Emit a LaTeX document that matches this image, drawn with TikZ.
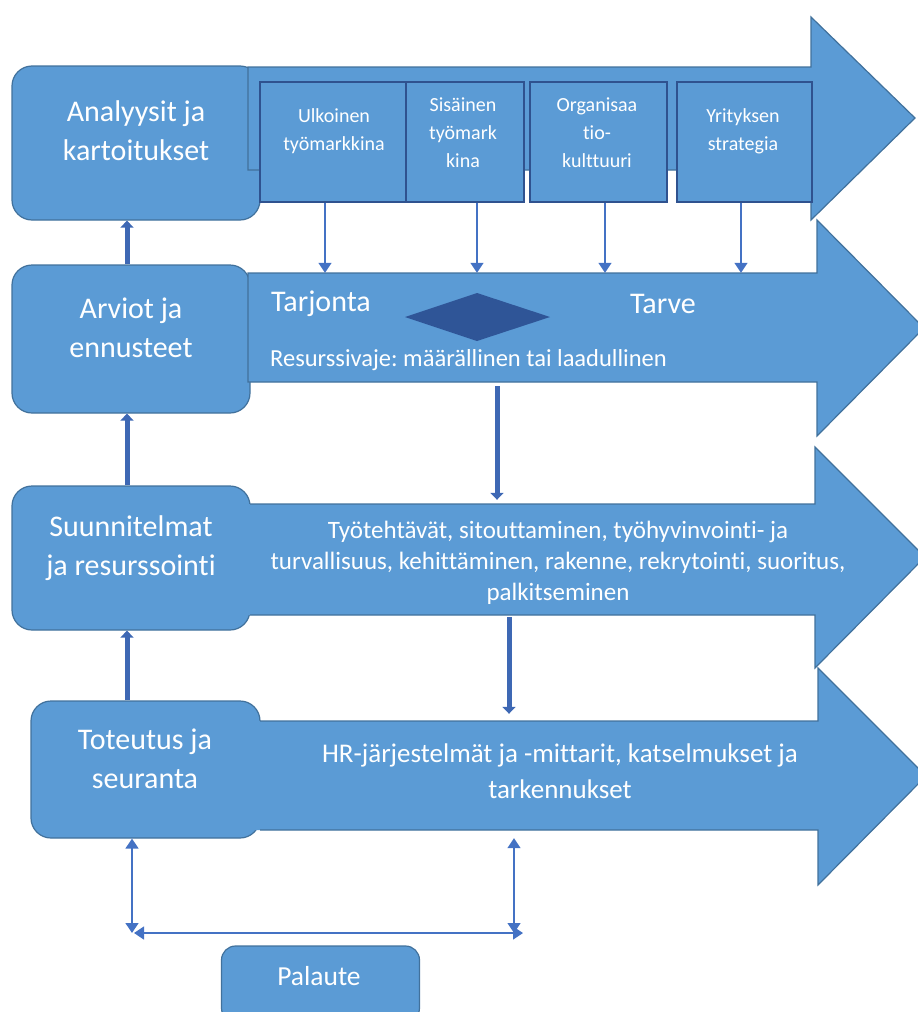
\documentclass[tikz,border=0pt]{standalone}
\usepackage{fontspec}
\setmainfont{Carlito}[Ligatures=NoCommon]
\usetikzlibrary{arrows.meta}
\definecolor{boxfill}{HTML}{5B9BD5}
\definecolor{boxline}{HTML}{41719C}
\definecolor{innerline}{HTML}{2F528F}
\definecolor{darkfill}{HTML}{2F5597}
\definecolor{arr}{HTML}{4472C4}
\definecolor{thickc}{HTML}{3E68B4}
\frenchspacing
\begin{document}
\begin{tikzpicture}[x=1pt,y=-1pt,
  blueshape/.style={fill=boxfill,draw=boxline,line width=1.2pt},
  stage/.style={blueshape,rounded corners=20pt,inner sep=0pt},
  smallbox/.style={fill=boxfill,draw=innerline,line width=1.2pt,inner sep=0pt,minimum height=120pt},
  ghost/.style={inner sep=0pt,draw=none},
  bigtxt/.style={text=white,align=center,font=\fontsize{30}{39}\selectfont},
  smalltxt/.style={text=white,align=center,font=\fontsize{20}{28}\selectfont},
  midtxt/.style={text=white,align=center,font=\fontsize{25}{31}\selectfont},
  thinarr/.style={draw=arr,line width=1.3pt,-{Triangle[length=10pt,width=13pt]}},
  twoway/.style={draw=arr,line width=1.3pt,{Triangle[length=10pt,width=13pt]}-{Triangle[length=10pt,width=13pt]}},
  thickarr/.style={draw=thickc,line width=5pt,-{Triangle[length=7pt,width=13pt]}}
]
\useasboundingbox (0,0) rectangle (918,1012);

% stage boxes
\node[stage,minimum width=248pt,minimum height=154pt] (b1) at (136,143) {};
\node[stage,minimum width=238pt,minimum height=148pt] (b2) at (131,339) {};
\node[stage,minimum width=238pt,minimum height=144pt] (b3) at (131,558) {};
\node[stage,minimum width=229pt,minimum height=137pt] (b4) at (145.5,769.5) {};
\node[stage,rounded corners=14pt,minimum width=198pt,minimum height=76pt] (pal) at (320.5,984) {};

% arrow 1
\draw[blueshape] (248,67) -- (811,67) -- (811,17) -- (915,118) -- (811,220) -- (811,170) -- (248,170) -- cycle;
\node[ghost,minimum width=563pt,minimum height=103pt] (a1) at (529.5,118.5) {};
% arrow 2
\draw[blueshape] (248,273) -- (817,273) -- (817,220) -- (924,328) -- (817,436) -- (817,382) -- (248,382) -- cycle;
\node[ghost,minimum width=569pt,minimum height=109pt] (a2) at (532.5,327.5) {};
% arrow 3
\fill[boxfill] (240,504) -- (815,504) -- (815,447) -- (925,557) -- (815,668) -- (815,615) -- (240,615) -- cycle;
\draw[boxline,line width=1.2pt] (250,504) -- (815,504) -- (815,447) -- (925,557) -- (815,668) -- (815,615) -- (250,615);
\node[ghost,minimum width=565pt,minimum height=111pt] (a3) at (532.5,559.5) {};
% arrow 4
\fill[boxfill] (250,721) -- (818,721) -- (818,668) -- (926,776) -- (818,885) -- (818,830) -- (250,830) -- cycle;
\draw[boxline,line width=1.2pt] (260,721) -- (818,721) -- (818,668) -- (926,776) -- (818,885) -- (818,830) -- (260,830);
\node[ghost,minimum width=560pt,minimum height=109pt] (a4) at (538,775.5) {};

% small boxes in arrow 1
\node[smallbox,minimum width=146pt] (s1) at (333,142) {};
\node[smallbox,minimum width=118pt] (s2) at (465,142) {};
\node[smallbox,minimum width=137pt] (s3) at (598.5,142) {};
\node[smallbox,minimum width=135pt] (s4) at (744.5,142) {};
\node[smalltxt] (s1t) at (334,131) {Ulkoinen\\työmarkkina};
\node[smalltxt] (s2t) at (463,133) {Sisäinen\\työmark\\kina};
\node[smalltxt] (s3t) at (597,133) {Organisaa\\tio-\\kulttuuri};
\node[smalltxt] (s4t) at (743,131) {Yrityksen\\strategia};

% diamond
\draw[fill=darkfill,draw=none] (405,317) -- (477,293) -- (550,317) -- (477,341) -- cycle;

% texts
\node[bigtxt] (b1t) at (136,131) {Analyysit ja\\kartoitukset};
\node[bigtxt] (b2t) at (131,328) {Arviot ja\\ennusteet};
\node[bigtxt] (b3t) at (131,548) {Suunnitelmat\\ja resurssointi};
\node[bigtxt] (b4t) at (145,759) {Toteutus ja\\seuranta};
\node[text=white,font=\fontsize{27.5}{30}\selectfont] (palt) at (319,976) {Palaute};
\node[text=white,font=\fontsize{30}{34}\selectfont] (tarj) at (321,304) {Tarjonta};
\node[text=white,font=\fontsize{30}{34}\selectfont] (tarve) at (663,304) {Tarve};
\node[text=white,anchor=west,inner sep=0pt,font=\fontsize{24.5}{30}\selectfont] (vaje) at (270,360) {Resurssivaje: määrällinen tai laadullinen};
\node[midtxt] (a3t) at (558,563) {Työtehtävät, sitouttaminen, työhyvinvointi- ja\\turvallisuus, kehittäminen, rakenne, rekrytointi, suoritus,\\palkitseminen};
\node[midtxt,font=\fontsize{27}{36}\selectfont] (a4t) at (560,771) {HR-järjestelmät ja -mittarit, katselmukset ja\\tarkennukset};

% thin arrows from small boxes
\foreach \s/\x in {s1/325,s2/477,s3/605,s4/741} {
  \coordinate (\s x) at (\x,0);
  \draw[thinarr] (\s.south -| \s x) -- (a2.north -| \s x);
}

% thick arrows on the left
\coordinate (lx) at (127,0);
\draw[thickarr] (b2.north -| lx) -- (b1.south -| lx);
\draw[thickarr] (b3.north -| lx) -- (b2.south -| lx);
\draw[thickarr] (b4.north -| lx) -- (b3.south -| lx);

% thick arrows down
\coordinate (d1) at (497,0);
\coordinate (d2) at (509,0);
\draw[thickarr] ([yshift=-4pt]a2.south -| d1) -- ([yshift=4pt]a3.north -| d1);
\draw[thickarr] ([yshift=-2pt]a3.south -| d2) -- ([yshift=7pt]a4.north -| d2);

% feedback loop
\coordinate (fl) at (132,933);
\coordinate (fr) at (514,933);
\coordinate (hl) at (134,933);
\coordinate (hr) at (523,933);
\draw[twoway] (b4.south -| fl) -- (fl);
\draw[twoway] ([yshift=-8pt]a4.south -| fr) -- (fr);
\draw[twoway] (hl) -- (hr);
\end{tikzpicture}
\end{document}
